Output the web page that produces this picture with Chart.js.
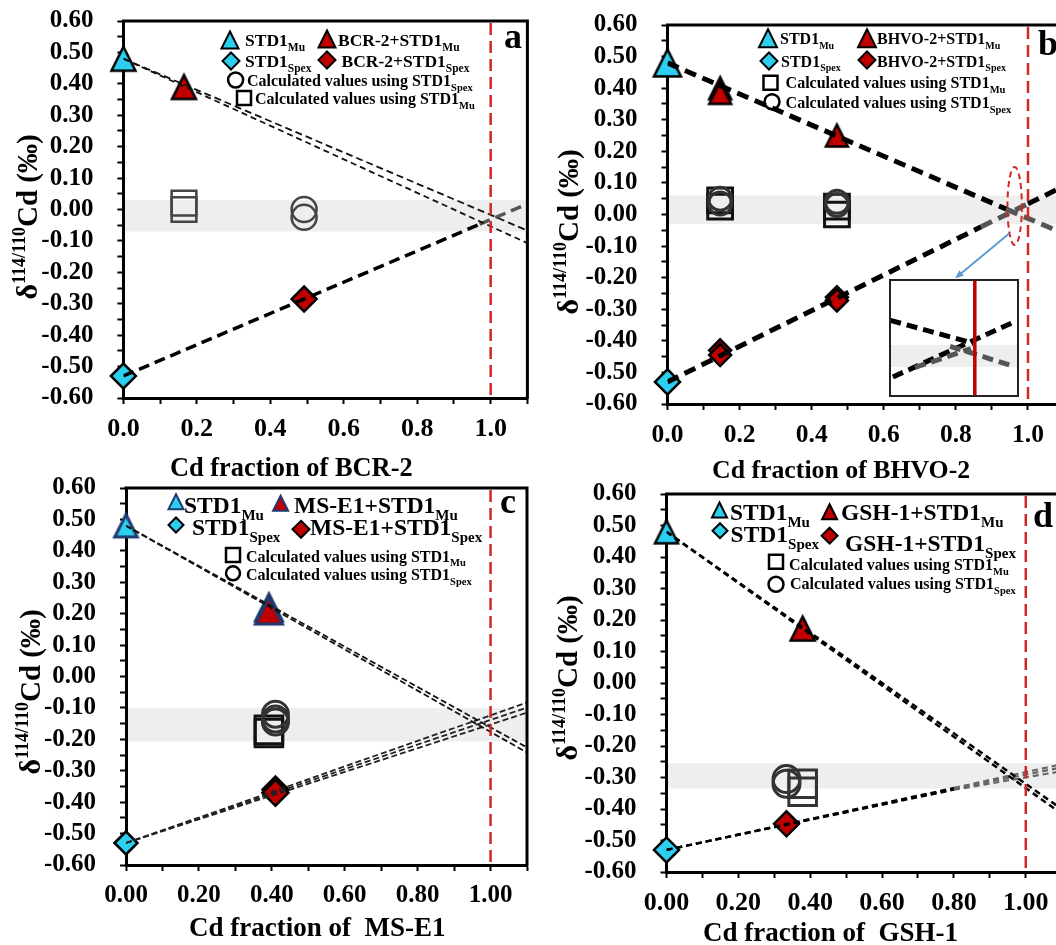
<!DOCTYPE html>
<html><head><meta charset="utf-8"><title>Cd mixing lines</title>
<script src="https://cdn.jsdelivr.net/npm/chart.js@4.4.1/dist/chart.umd.min.js"></script>
<style>
html,body{margin:0;padding:0;background:#fff;}
body{width:1056px;height:945px;overflow:hidden;position:relative;}
canvas{position:absolute;display:block;}
</style></head>
<body>
<canvas id="pa"></canvas><canvas id="pb"></canvas><canvas id="pc"></canvas><canvas id="pd"></canvas><canvas id="pinset"></canvas>
<script>
// ---------- tick labels ----------
const yTickLabels = ['0.60','0.50','0.40','0.30','0.20','0.10','0.00','-0.10','-0.20','-0.30','-0.40','-0.50','-0.60'];
const xTickLabels1 = ['0.0','0.2','0.4','0.6','0.8','1.0'];
const xTickLabels2 = ['0.00','0.20','0.40','0.60','0.80','1.00'];

// ---------- panel a : BCR-2 ----------
const aStdMuX = [0], aStdMuY = [0.48];
const aMixMuX = [0.165], aMixMuY = [0.39];
const aStdSpexX = [0], aStdSpexY = [-0.53];
const aMixSpexX = [0.492], aMixSpexY = [-0.285];
const aCalcMuX = [0.165, 0.165], aCalcMuY = [0.02, 0.0];
const aCalcSpexX = [0.492, 0.492], aCalcSpexY = [0.0, -0.025];
const aBand = [0.03, -0.07];
const aMuLine1X = [0, 1.1], aMuLine1Y = [0.48, -0.067];
const aMuLine2X = [0, 1.1], aMuLine2Y = [0.48, -0.107];
const aSpexLineX = [0, 0.97, 1.1], aSpexLineY = [-0.53, -0.047, 0.018];

// ---------- panel b : BHVO-2 ----------
const bStdMuX = [0], bStdMuY = [0.48];
const bMixMuX = [0.146, 0.146, 0.47], bMixMuY = [0.40, 0.385, 0.25];
const bStdSpexX = [0], bStdSpexY = [-0.53];
const bMixSpexX = [0.146, 0.146, 0.47, 0.47], bMixSpexY = [-0.43, -0.445, -0.262, -0.272];
const bCalcMuX = [0.146, 0.146, 0.47, 0.47], bCalcMuY = [0.045, 0.025, 0.025, 0.0];
const bCalcSpexX = [0.146, 0.146, 0.47, 0.47], bCalcSpexY = [0.05, 0.035, 0.04, 0.03];
const bBand = [0.06, -0.03];
const bMuLineX = [0, 0.94, 1.1], bMuLineY = [0.48, 0.017, -0.061];
const bSpexLineX = [0, 0.87, 1.0, 1.1], bSpexLineY = [-0.53, -0.039, 0.034, 0.09];
const bEllipse = {x: 0.963, y: 0.027, rx: 0.02, ry: 0.1235};
const bArrow = {x0: 0.948, y0: -0.06, x1: 0.798, y1: -0.202};
// inset (zoom of the crossing, unitless 0-1 box)
const insetBand = [0.255, 0.44];
const insetRedX = 0.66;
const insetBlackDownX = [0.01, 0.65], insetBlackDownY = [0.65, 0.455];
const insetGrayDownX = [0.47, 0.96], insetGrayDownY = [0.43, 0.26];
const insetBlackUpX = [0.03, 0.97], insetBlackUpY = [0.17, 0.64];
const insetGrayUpX = [0.2, 0.63], insetGrayUpY = [0.25, 0.41];

// ---------- panel c : MS-E1 ----------
const cStdMuX = [0], cStdMuY = [0.48];
const cMixMuX = [0.392, 0.392], cMixMuY = [0.22, 0.21];
const cStdSpexX = [0], cStdSpexY = [-0.53];
const cMixSpexX = [0.41, 0.41], cMixSpexY = [-0.36, -0.37];
const cCalcMuX = [0.392, 0.392], cCalcMuY = [-0.17, -0.18];
const cCalcSpexX = [0.41, 0.41, 0.41], cCalcSpexY = [-0.12, -0.135, -0.145];
const cBand = [-0.10, -0.207];
const cMuLine1X = [0, 1.1], cMuLine1Y = [0.48, -0.226];
const cMuLine2X = [0, 1.1], cMuLine2Y = [0.48, -0.242];
const cSpexLine1X = [0, 1.1], cSpexLine1Y = [-0.53, -0.083];
const cSpexLine2X = [0, 1.1], cSpexLine2Y = [-0.53, -0.099];
const cSpexLine3X = [0, 1.1], cSpexLine3Y = [-0.53, -0.115];

// ---------- panel d : GSH-1 ----------
const dStdMuX = [0], dStdMuY = [0.48];
const dMixMuX = [0.379], dMixMuY = [0.173];
const dStdSpexX = [0], dStdSpexY = [-0.53];
const dMixSpexX = [0.334], dMixSpexY = [-0.447];
const dCalcMuX = [0.379, 0.379], dCalcMuY = [-0.32, -0.345];
const dCalcSpexX = [0.334, 0.334], dCalcSpexY = [-0.305, -0.32];
const dBand = [-0.255, -0.335];
const dMuLine1X = [0, 1.1], dMuLine1Y = [0.48, -0.40];
const dMuLine2X = [0, 1.1], dMuLine2Y = [0.48, -0.415];
const dSpexLine1X = [0, 0.8, 1.1], dSpexLine1Y = [-0.53, -0.333, -0.258];
const dSpexLine2X = [0, 0.8, 1.1], dSpexLine2Y = [-0.53, -0.336, -0.268];
const dSpexLine3X = [0, 0.8, 1.1], dSpexLine3Y = [-0.53, -0.339, -0.28];

// ---------- styles ----------
const SERIF = '"Liberation Serif", "Times New Roman", serif';
const CYAN = '#2CCFEF', RED = '#C00000', NAVY = '#1F3A70', GRAYL = '#555555';
const NONE = 'rgba(0,0,0,0)';

function pts(xs, ys) { return xs.map((x, i) => ({x: x, y: ys[i]})); }

function triPath(ctx, cx, cy, w) {
  const h = w;
  ctx.beginPath();
  ctx.moveTo(cx, cy - h / 2);
  ctx.lineTo(cx + w / 2, cy + h / 2);
  ctx.lineTo(cx - w / 2, cy + h / 2);
  ctx.closePath();
}
function triImage(w, fill, stroke, lw) {
  const S = Math.ceil(w + lw * 2 + 4);
  const c = document.createElement('canvas');
  c.width = S; c.height = S;
  const g = c.getContext('2d');
  triPath(g, S / 2, S / 2, w);
  g.fillStyle = fill; g.fill();
  g.lineWidth = lw; g.strokeStyle = stroke; g.lineJoin = 'miter'; g.stroke();
  return c;
}

function drawSym(ctx, it) {
  ctx.save();
  ctx.lineWidth = it.lw || 2;
  ctx.strokeStyle = it.stroke || '#000';
  ctx.fillStyle = it.fill || NONE;
  ctx.beginPath();
  if (it.sym === 'tri') { triPath(ctx, it.x, it.y, it.s); }
  else if (it.sym === 'dia') {
    ctx.moveTo(it.x, it.y - it.s); ctx.lineTo(it.x + it.s, it.y);
    ctx.lineTo(it.x, it.y + it.s); ctx.lineTo(it.x - it.s, it.y); ctx.closePath();
  } else if (it.sym === 'circ') { ctx.arc(it.x, it.y, it.s, 0, Math.PI * 2); }
  else if (it.sym === 'sq') { ctx.rect(it.x - it.s / 2, it.y - it.s / 2, it.s, it.s); }
  if (it.fill) ctx.fill();
  ctx.stroke();
  ctx.restore();
}
function drawRich(ctx, x, y, parts, color) {
  let cx = x;
  ctx.fillStyle = color || '#000';
  ctx.textAlign = 'left'; ctx.textBaseline = 'alphabetic';
  parts.forEach(p => {
    ctx.font = 'bold ' + p[1] + 'px ' + SERIF;
    ctx.fillText(p[0], cx, y + (p[2] || 0));
    cx += ctx.measureText(p[0]).width;
  });
}
function richWidth(ctx, parts) {
  let w = 0;
  parts.forEach(p => { ctx.font = 'bold ' + p[1] + 'px ' + SERIF; w += ctx.measureText(p[0]).width; });
  return w;
}

function makePlugin(P) {
  return {
    id: 'panel_' + P.id,
    beforeDraw(chart) {
      const ctx = chart.ctx, a = chart.chartArea, ys = chart.scales.y;
      const y1 = ys.getPixelForValue(P.band[0]), y2 = ys.getPixelForValue(P.band[1]);
      ctx.save();
      ctx.fillStyle = '#EEEEEE';
      ctx.fillRect(a.left + (P.bandLeft || 0), y1, a.right - a.left - (P.bandLeft || 0), y2 - y1);
      ctx.restore();
    },
    afterDatasetsDraw(chart) {
      const ctx = chart.ctx, a = chart.chartArea, xs = chart.scales.x, ys = chart.scales.y;
      const xr = xs.getPixelForValue(1.0);
      ctx.save();
      ctx.strokeStyle = '#D02828'; ctx.lineWidth = 2.5; ctx.setLineDash([12, 6]);
      ctx.beginPath(); ctx.moveTo(xr, a.top + 2); ctx.lineTo(xr, a.bottom); ctx.stroke();
      ctx.restore();
      if (P.ellipse) {
        const E = P.ellipse;
        const cx = xs.getPixelForValue(E.x), cy = ys.getPixelForValue(E.y);
        const rx = xs.getPixelForValue(E.x + E.rx) - cx, ry = cy - ys.getPixelForValue(E.y + E.ry);
        ctx.save();
        ctx.strokeStyle = '#D02828'; ctx.lineWidth = 2; ctx.setLineDash([6, 4]);
        ctx.beginPath(); ctx.ellipse(cx, cy, rx, ry, 0, 0, Math.PI * 2); ctx.stroke();
        ctx.restore();
      }
      if (P.arrow) {
        const A = P.arrow;
        const x0 = xs.getPixelForValue(A.x0), y0 = ys.getPixelForValue(A.y0);
        const x1 = xs.getPixelForValue(A.x1), y1 = ys.getPixelForValue(A.y1);
        const ang = Math.atan2(y1 - y0, x1 - x0), L = 9;
        ctx.save();
        ctx.strokeStyle = '#5B9BD5'; ctx.fillStyle = '#5B9BD5'; ctx.lineWidth = 2;
        ctx.beginPath(); ctx.moveTo(x0, y0); ctx.lineTo(x1 - Math.cos(ang) * 6, y1 - Math.sin(ang) * 6); ctx.stroke();
        ctx.beginPath(); ctx.moveTo(x1, y1);
        ctx.lineTo(x1 - L * Math.cos(ang - 0.4), y1 - L * Math.sin(ang - 0.4));
        ctx.lineTo(x1 - L * Math.cos(ang + 0.4), y1 - L * Math.sin(ang + 0.4));
        ctx.closePath(); ctx.fill();
        ctx.restore();
      }
    },
    afterDraw(chart) {
      const ctx = chart.ctx, a = chart.chartArea;
      ctx.save();
      // frame top + right
      ctx.strokeStyle = '#000'; ctx.lineWidth = 3;
      ctx.beginPath(); ctx.moveTo(a.left - 1.5, a.top); ctx.lineTo(a.right, a.top); ctx.lineTo(a.right, a.bottom + 1.5); ctx.stroke();
      const ox = P.left, oy = P.top;
      // panel letter
      ctx.fillStyle = '#000'; ctx.textAlign = 'left'; ctx.textBaseline = 'alphabetic';
      ctx.font = 'bold 36px ' + SERIF;
      ctx.fillText(P.letter.t, P.letter.x - ox, P.letter.y - oy);
      // legend
      P.legend.forEach(it => {
        drawSym(ctx, Object.assign({}, it, {x: it.x - ox, y: it.y - oy}));
        drawRich(ctx, it.tx - ox, it.ty - oy, it.parts);
      });
      // x title
      drawRich(ctx, P.xtitle.x - ox, P.xtitle.y - oy, [[P.xtitle.t, P.xtitle.f]]);
      // y title (rotated)
      const yp = [['δ', 30], ['114/110', 18, -12], ['Cd (‰)', 29]];
      const w = richWidth(ctx, yp);
      ctx.translate(P.ytitle.x - ox, P.ytitle.y - oy);
      ctx.rotate(-Math.PI / 2);
      drawRich(ctx, -w / 2, 0, yp);
      ctx.restore();
    }
  };
}

function lineDS(L) {
  return {
    data: pts(L.x, L.y), showLine: true, pointRadius: 0, pointHoverRadius: 0,
    borderColor: L.colors[0], borderWidth: L.w, borderDash: L.dash, fill: false, tension: 0, order: 0,
    segment: {borderColor: c => L.colors[c.p0DataIndex] || L.colors[L.colors.length - 1]}
  };
}
function markDS(M) {
  const style = M.style === 'tri' ? triImage(M.r, M.fill, M.stroke, M.bw) : M.style;
  return {
    data: pts(M.x, M.y), showLine: false, pointStyle: style, pointRadius: M.style === 'tri' ? M.r / 2 : M.r,
    pointHoverRadius: M.r, pointBackgroundColor: M.fill, pointBorderColor: M.stroke, pointBorderWidth: M.bw,
    order: 1, clip: false
  };
}

function makePanel(P) {
  const cv = document.getElementById(P.id);
  cv.width = P.W; cv.height = P.H;
  cv.style.left = P.left + 'px'; cv.style.top = P.top + 'px';
  const datasets = P.lines.map(lineDS).concat(P.markers.map(markDS));
  const tickGrid = {drawOnChartArea: false, drawTicks: true, tickLength: 6, tickWidth: 2, tickColor: '#000'};
  const border = {display: true, color: '#000', width: 3};
  new Chart(cv, {
    type: 'scatter',
    data: {datasets: datasets},
    options: {
      responsive: false, animation: false, events: [],
      layout: {padding: P.pad, autoPadding: false},
      plugins: {legend: {display: false}, tooltip: {enabled: false}},
      scales: {
        x: {
          type: 'linear', min: 0, max: 1.1,
          ticks: {stepSize: 0.1, autoSkip: false, maxRotation: 0, padding: 10, color: '#000',
            font: {family: SERIF, size: P.xFont, weight: 'bold'},
            callback: v => { const k = Math.round(v * 10); return (k % 2 === 0 && k <= 10) ? P.xLabels[k / 2] : ''; }},
          grid: tickGrid, border: border,
          afterFit: s => { s.height = P.xH; s.paddingLeft = 0; s.paddingRight = 0; s.paddingTop = 0; s.paddingBottom = 0; }
        },
        y: {
          type: 'linear', min: -0.6, max: 0.6,
          ticks: {stepSize: 0.05, autoSkip: false, padding: 24, color: '#000',
            font: {family: SERIF, size: 25, weight: 'bold'},
            callback: v => { const k = Math.round(v * 20); if (k % 2 !== 0) return ''; return yTickLabels[Math.round((0.6 - v) * 10)]; }},
          grid: tickGrid, border: border,
          afterFit: s => { s.width = P.yW; s.paddingTop = 0; s.paddingBottom = 0; s.paddingLeft = 0; s.paddingRight = 0; }
        }
      }
    },
    plugins: [makePlugin(P)]
  });
}

const SUBDY = 5;
function calcParts(sub) { return [['Calculated values using STD1', 16], [sub, 10.5, 4.5]]; }

// ---------- panel a ----------
makePanel({
  id: 'pa', left: 0, top: 0, W: 530, H: 485,
  pad: {left: 0, top: 21, right: 2.6, bottom: 0}, yW: 123.4, xH: 87,
  xLabels: xTickLabels1, xFont: 26, band: aBand,
  lines: [
    {x: aMuLine1X, y: aMuLine1Y, w: 1.8, dash: [7, 4], colors: ['#111']},
    {x: aMuLine2X, y: aMuLine2Y, w: 1.8, dash: [6, 4], colors: ['#111']},
    {x: aSpexLineX, y: aSpexLineY, w: 3.5, dash: [11, 6], colors: ['#000', GRAYL]}
  ],
  markers: [
    {x: aCalcMuX, y: aCalcMuY, style: 'rect', r: 17.5, fill: NONE, stroke: '#444', bw: 2.5},
    {x: aCalcSpexX, y: aCalcSpexY, style: 'circle', r: 12.5, fill: NONE, stroke: '#444', bw: 2.5},
    {x: aStdMuX, y: aStdMuY, style: 'tri', r: 24, fill: CYAN, stroke: '#000', bw: 2.5},
    {x: aMixMuX, y: aMixMuY, style: 'tri', r: 24, fill: RED, stroke: '#000', bw: 2.5},
    {x: aStdSpexX, y: aStdSpexY, style: 'rectRot', r: 12.5, fill: CYAN, stroke: '#000', bw: 2.5},
    {x: aMixSpexX, y: aMixSpexY, style: 'rectRot', r: 12.5, fill: RED, stroke: '#000', bw: 2.5}
  ],
  letter: {t: 'a', x: 504, y: 48},
  ytitle: {x: 37, y: 217},
  xtitle: {t: 'Cd fraction of BCR-2', x: 170, y: 476, f: 26.4},
  legend: [
    {sym: 'tri', x: 230, y: 40, s: 17, fill: CYAN, tx: 245, ty: 45.5, parts: [['STD1', 17.5], ['Mu', 11.5, SUBDY]]},
    {sym: 'tri', x: 327, y: 39, s: 17, fill: RED, tx: 338, ty: 45.5, parts: [['BCR-2+STD1', 17.5], ['Mu', 11.5, SUBDY]]},
    {sym: 'dia', x: 231, y: 61, s: 8.5, fill: CYAN, tx: 245, ty: 67, parts: [['STD1', 17.5], ['Spex', 11.5, SUBDY]]},
    {sym: 'dia', x: 327, y: 60, s: 8.5, fill: RED, tx: 341.5, ty: 67, parts: [['BCR-2+STD1', 17.5], ['Spex', 11.5, SUBDY]]},
    {sym: 'circ', x: 235.6, y: 80, s: 7.5, lw: 2.5, tx: 247, ty: 86, parts: calcParts('Spex')},
    {sym: 'sq', x: 244, y: 98, s: 14, lw: 2.5, tx: 255, ty: 104, parts: calcParts('Mu')}
  ]
});

// ---------- panel b ----------
makePanel({
  id: 'pb', left: 530, top: 0, W: 540, H: 485,
  pad: {left: 0, top: 25, right: 5.95, bottom: 0}, yW: 137.5, xH: 81,
  xLabels: xTickLabels1, xFont: 25.5, band: bBand,
  lines: [
    {x: bMuLineX, y: bMuLineY, w: 5, dash: [12, 7], colors: ['#000', GRAYL]},
    {x: bSpexLineX, y: bSpexLineY, w: 5, dash: [12, 7], colors: ['#000', GRAYL, '#000']}
  ],
  markers: [
    {x: bCalcSpexX, y: bCalcSpexY, style: 'circle', r: 11.5, fill: NONE, stroke: '#333', bw: 3},
    {x: bCalcMuX, y: bCalcMuY, style: 'rect', r: 17.5, fill: NONE, stroke: '#111', bw: 3},
    {x: bStdMuX, y: bStdMuY, style: 'tri', r: 27, fill: CYAN, stroke: '#000', bw: 2.5},
    {x: bMixMuX, y: bMixMuY, style: 'tri', r: 22, fill: RED, stroke: '#000', bw: 2.5},
    {x: bStdSpexX, y: bStdSpexY, style: 'rectRot', r: 12.5, fill: CYAN, stroke: '#000', bw: 2.5},
    {x: bMixSpexX, y: bMixSpexY, style: 'rectRot', r: 11, fill: RED, stroke: '#000', bw: 2.5}
  ],
  ellipse: bEllipse, arrow: bArrow,
  letter: {t: 'b', x: 1038, y: 55},
  ytitle: {x: 578, y: 232},
  xtitle: {t: 'Cd fraction of BHVO-2', x: 712, y: 478, f: 25.8},
  legend: [
    {sym: 'tri', x: 768, y: 38.3, s: 18, fill: CYAN, tx: 780, ty: 44, parts: [['STD1', 16], ['Mu', 10, 4.5]]},
    {sym: 'tri', x: 867, y: 38.3, s: 18, fill: RED, tx: 877, ty: 44, parts: [['BHVO-2+STD1', 16], ['Mu', 10, 4.5]]},
    {sym: 'dia', x: 769, y: 61, s: 8.5, fill: CYAN, tx: 781, ty: 66.7, parts: [['STD1', 16], ['Spex', 10, 4.5]]},
    {sym: 'dia', x: 867, y: 60, s: 8.5, fill: RED, tx: 877, ty: 66.7, parts: [['BHVO-2+STD1', 16], ['Spex', 10, 4.5]]},
    {sym: 'sq', x: 770.5, y: 82.7, s: 14, lw: 2.5, tx: 785.6, ty: 88.3, parts: calcParts('Mu')},
    {sym: 'circ', x: 772, y: 101.7, s: 7.5, lw: 2.5, tx: 785.6, ty: 108.3, parts: calcParts('Spex')}
  ]
});

// ---------- panel c ----------
makePanel({
  id: 'pc', left: 0, top: 470, W: 530, H: 475,
  pad: {left: 0, top: 18, right: 3, bottom: 0}, yW: 126, xH: 80,
  xLabels: xTickLabels2, xFont: 25, band: cBand,
  lines: [
    {x: cMuLine1X, y: cMuLine1Y, w: 1.8, dash: [6, 3], colors: ['#111']},
    {x: cMuLine2X, y: cMuLine2Y, w: 1.8, dash: [6, 3], colors: ['#111']},
    {x: cSpexLine1X, y: cSpexLine1Y, w: 1.8, dash: [6, 3], colors: ['#222']},
    {x: cSpexLine2X, y: cSpexLine2Y, w: 1.8, dash: [6, 3], colors: ['#222']},
    {x: cSpexLine3X, y: cSpexLine3Y, w: 1.8, dash: [6, 3], colors: ['#222']}
  ],
  markers: [
    {x: cCalcSpexX, y: cCalcSpexY, style: 'circle', r: 13, fill: NONE, stroke: '#333', bw: 3},
    {x: cCalcMuX, y: cCalcMuY, style: 'rect', r: 19.5, fill: NONE, stroke: '#111', bw: 3},
    {x: cStdMuX, y: cStdMuY, style: 'tri', r: 22.5, fill: CYAN, stroke: NAVY, bw: 3},
    {x: cMixMuX, y: cMixMuY, style: 'tri', r: 27, fill: RED, stroke: NAVY, bw: 3},
    {x: cStdSpexX, y: cStdSpexY, style: 'rectRot', r: 11.5, fill: CYAN, stroke: '#000', bw: 2.5},
    {x: cMixSpexX, y: cMixSpexY, style: 'rectRot', r: 13, fill: RED, stroke: '#000', bw: 2.5}
  ],
  letter: {t: 'c', x: 500, y: 513},
  ytitle: {x: 40, y: 692},
  xtitle: {t: 'Cd fraction of  MS-E1', x: 189, y: 936, f: 27},
  legend: [
    {sym: 'tri', x: 176, y: 501.7, s: 15, fill: CYAN, stroke: NAVY, tx: 184, ty: 513.3, parts: [['STD1', 23.5], ['Mu', 15, 7]]},
    {sym: 'tri', x: 280.6, y: 503.3, s: 15, fill: RED, stroke: NAVY, tx: 294, ty: 513.3, parts: [['MS-E1+STD1', 23.5], ['Mu', 15, 7]]},
    {sym: 'dia', x: 176, y: 525, s: 7.5, fill: CYAN, tx: 192, ty: 535, parts: [['STD1', 23.5], ['Spex', 15, 7]]},
    {sym: 'dia', x: 301, y: 529.3, s: 8.5, fill: RED, tx: 310, ty: 535, parts: [['MS-E1+STD1', 23.5], ['Spex', 15, 7]]},
    {sym: 'sq', x: 233, y: 555, s: 14, lw: 2.5, tx: 246, ty: 561.7, parts: calcParts('Mu')},
    {sym: 'circ', x: 233, y: 573.3, s: 7, lw: 2.5, tx: 246, ty: 580, parts: calcParts('Spex')}
  ]
});

// ---------- panel d ----------
makePanel({
  id: 'pd', left: 530, top: 470, W: 540, H: 475,
  pad: {left: 0, top: 24, right: 8.3, bottom: 0}, yW: 136.5, xH: 73,
  xLabels: xTickLabels2, xFont: 26, band: dBand,
  lines: [
    {x: dMuLine1X, y: dMuLine1Y, w: 2.5, dash: [6, 4], colors: ['#000']},
    {x: dMuLine2X, y: dMuLine2Y, w: 2.5, dash: [6, 4], colors: ['#000']},
    {x: dSpexLine1X, y: dSpexLine1Y, w: 2.2, dash: [6, 4], colors: ['#000', '#666']},
    {x: dSpexLine2X, y: dSpexLine2Y, w: 2.2, dash: [6, 4], colors: ['#000', '#666']},
    {x: dSpexLine3X, y: dSpexLine3Y, w: 2.2, dash: [6, 4], colors: ['#000', '#666']}
  ],
  markers: [
    {x: dCalcSpexX, y: dCalcSpexY, style: 'circle', r: 13.5, fill: NONE, stroke: '#333', bw: 3},
    {x: dCalcMuX, y: dCalcMuY, style: 'rect', r: 19.5, fill: NONE, stroke: '#333', bw: 3},
    {x: dStdMuX, y: dStdMuY, style: 'tri', r: 23, fill: CYAN, stroke: '#000', bw: 2.5},
    {x: dMixMuX, y: dMixMuY, style: 'tri', r: 24, fill: RED, stroke: '#000', bw: 2.5},
    {x: dStdSpexX, y: dStdSpexY, style: 'rectRot', r: 12.5, fill: CYAN, stroke: '#000', bw: 2.5},
    {x: dMixSpexX, y: dMixSpexY, style: 'rectRot', r: 12.5, fill: RED, stroke: '#000', bw: 2.5}
  ],
  letter: {t: 'd', x: 1033, y: 527},
  ytitle: {x: 577, y: 678},
  xtitle: {t: 'Cd fraction of  GSH-1', x: 703, y: 941, f: 27},
  legend: [
    {sym: 'tri', x: 719.5, y: 510, s: 15, fill: CYAN, tx: 730, ty: 520, parts: [['STD1', 23.5], ['Mu', 15, 7]]},
    {sym: 'tri', x: 829.6, y: 511.7, s: 15, fill: RED, tx: 841, ty: 520, parts: [['GSH-1+STD1', 23.5], ['Mu', 15, 7]]},
    {sym: 'dia', x: 720, y: 530.7, s: 7.5, fill: CYAN, tx: 730.6, ty: 541.7, parts: [['STD1', 23.5], ['Spex', 15, 7]]},
    {sym: 'dia', x: 829.6, y: 535.7, s: 8, fill: RED, tx: 845, ty: 551, parts: [['GSH-1+STD1', 23.5], ['Spex', 15, 7]]},
    {sym: 'sq', x: 776, y: 561.7, s: 14, lw: 2.5, tx: 789, ty: 570, parts: calcParts('Mu')},
    {sym: 'circ', x: 776, y: 584.3, s: 7.5, lw: 2.5, tx: 790, ty: 589.3, parts: calcParts('Spex')}
  ]
});

// ---------- inset of panel b ----------
(function () {
  const cv = document.getElementById('pinset');
  cv.width = 130; cv.height = 118;
  cv.style.left = '889px'; cv.style.top = '279px';
  const L = (xs, ys, col, ord) => ({data: pts(xs, ys), showLine: true, pointRadius: 0, borderColor: col,
    borderWidth: 5, borderDash: [11, 6], tension: 0, order: ord});
  new Chart(cv, {
    type: 'scatter',
    data: {datasets: [
      L(insetGrayDownX, insetGrayDownY, GRAYL, 0),
      L(insetGrayUpX, insetGrayUpY, GRAYL, 0),
      L(insetBlackDownX, insetBlackDownY, '#000', 1),
      L(insetBlackUpX, insetBlackUpY, '#000', 1)
    ]},
    options: {
      responsive: false, animation: false, events: [],
      layout: {padding: 0, autoPadding: false},
      plugins: {legend: {display: false}, tooltip: {enabled: false}},
      scales: {x: {type: 'linear', min: 0, max: 1, display: false}, y: {type: 'linear', min: 0, max: 1, display: false}}
    },
    plugins: [{
      id: 'insetDeco',
      beforeDraw(chart) {
        const ctx = chart.ctx, xs = chart.scales.x, ys = chart.scales.y;
        ctx.save();
        ctx.fillStyle = '#fff'; ctx.fillRect(0, 0, chart.width, chart.height);
        ctx.fillStyle = '#EEEEEE';
        const y1 = ys.getPixelForValue(insetBand[1]), y2 = ys.getPixelForValue(insetBand[0]);
        ctx.fillRect(0, y1, chart.width, y2 - y1);
        ctx.restore();
      },
      afterDatasetsDraw(chart) {
        const ctx = chart.ctx, xs = chart.scales.x;
        const xr = xs.getPixelForValue(insetRedX);
        ctx.save();
        ctx.strokeStyle = '#C00000'; ctx.lineWidth = 3.5;
        ctx.beginPath(); ctx.moveTo(xr, 0); ctx.lineTo(xr, chart.height); ctx.stroke();
        ctx.strokeStyle = '#222'; ctx.lineWidth = 2;
        ctx.strokeRect(1, 1, chart.width - 2, chart.height - 2);
        ctx.restore();
      }
    }]
  });
})();
</script>
</body></html>
